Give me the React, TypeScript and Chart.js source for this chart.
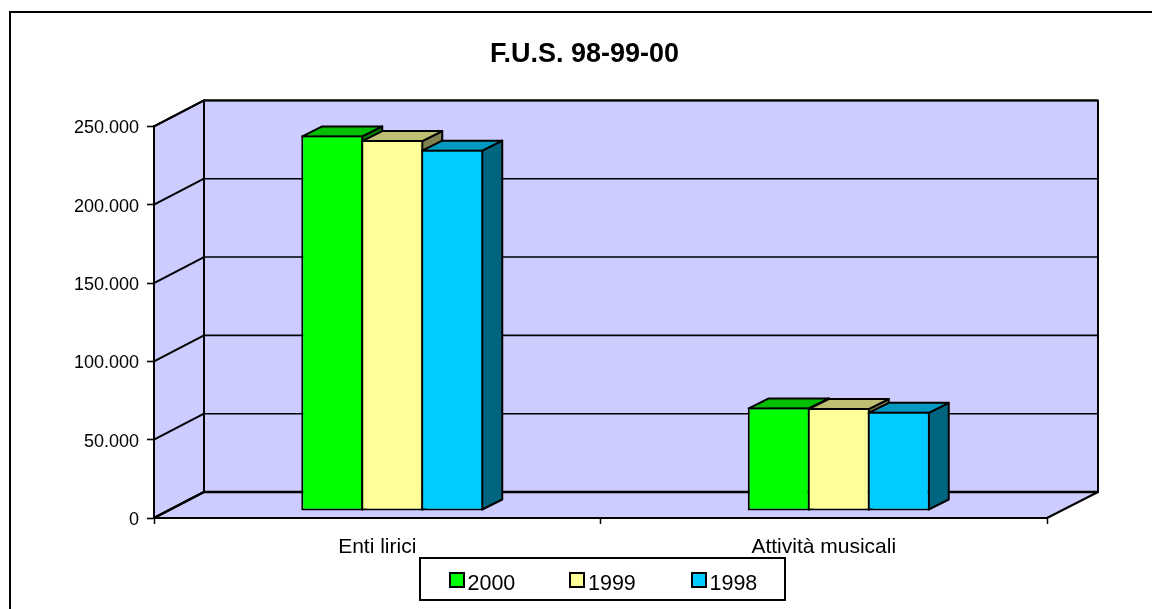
import React, { useEffect, useRef } from "react";
import { Chart, registerables } from "chart.js";

Chart.register(...registerables);

const title = "F.U.S. 98-99-00";
const categories = ["Enti lirici", "Attività musicali"];
const series2000 = [239800, 66150];
const series1999 = [236800, 65700];
const series1998 = [230700, 63300];
const valueTicks = ["0", "50.000", "100.000", "150.000", "200.000", "250.000"];
const FONT = '"Liberation Sans", Arial, sans-serif';

const front = ["#00FF00", "#FFFF99", "#00CCFF"];
const tops = ["#00BF00", "#BFBF73", "#0099BF"];
const sides = ["#008000", "#808050", "#006680"];

const WALL = "#CCCCFF";
const DEPTH_X = 50;
const DEPTH_Y = 26;
const BAR_SHIFT_X = 15;
const BAR_SHIFT_Y = 7;
const BAR_DX = 20;
const BAR_DY = 10;
const LINE = 2;
const GRID = 1.6;

function poly(ctx: CanvasRenderingContext2D, pts: number[][], fill: string | null, lw: number) {
  ctx.beginPath();
  pts.forEach((p, i) => (i ? ctx.lineTo(p[0], p[1]) : ctx.moveTo(p[0], p[1])));
  ctx.closePath();
  if (fill) {
    ctx.fillStyle = fill;
    ctx.fill();
  }
  if (lw > 0) {
    ctx.lineWidth = lw;
    ctx.strokeStyle = "#000";
    ctx.lineJoin = "round";
    ctx.stroke();
  }
}

const scene3d = {
  id: "scene3d",
  afterLayout(chart: any) {
    const t = chart.titleBlock;
    if (t) {
      t.left -= 16;
      t.right -= 16;
    }
  },
  beforeDraw(chart: any) {
    const ctx: CanvasRenderingContext2D = chart.ctx;
    const { left, right, top, bottom } = chart.chartArea;
    const y = chart.scales.y;
    ctx.save();
    ctx.fillStyle = "#fff";
    ctx.fillRect(0, 0, chart.width, chart.height);
    ctx.lineWidth = 2;
    ctx.strokeStyle = "#000";
    ctx.strokeRect(10, 12, 1160, 640);
    const bx = left + DEPTH_X;
    const brx = right + 51;
    const up = DEPTH_Y;
    poly(ctx, [[left, top], [bx, top - up], [bx, bottom - up], [left, bottom]], WALL, LINE);
    poly(ctx, [[bx, top - up], [brx, top - up], [brx, bottom - up], [bx, bottom - up]], WALL, LINE);
    poly(ctx, [[left, bottom], [bx, bottom - up], [brx, bottom - up], [right, bottom]], WALL, LINE);
    y.ticks.forEach((t: any) => {
      const py = y.getPixelForValue(t.value);
      ctx.strokeStyle = "#000";
      ctx.beginPath();
      ctx.moveTo(left, py);
      ctx.lineTo(bx, py - up);
      ctx.lineWidth = LINE;
      ctx.stroke();
      ctx.beginPath();
      ctx.moveTo(bx, py - up);
      ctx.lineTo(brx, py - up);
      ctx.lineWidth = t.value === 0 ? 2.6 : GRID;
      ctx.stroke();
    });
    ctx.restore();
  },
  beforeDatasetDraw() {
    return false;
  },
  afterDatasetsDraw(chart: any) {
    const ctx: CanvasRenderingContext2D = chart.ctx;
    ctx.save();
    ctx.translate(BAR_SHIFT_X, -BAR_SHIFT_Y);
    chart.data.datasets.forEach((_: any, di: number) => {
      const meta = chart.getDatasetMeta(di);
      meta.data.forEach((bar: any) => {
        const { x, y, base, width } = bar.getProps(["x", "y", "base", "width"]);
        const l = x - width / 2 + 1;
        const r = x + width / 2 - 1;
        const t = y + 1;
        const b = base - 1;
        poly(ctx, [[r, t], [r + BAR_DX, t - BAR_DY], [r + BAR_DX, b - BAR_DY], [r, b]], sides[di], 2);
        poly(ctx, [[l, t], [l + BAR_DX, t - BAR_DY], [r + BAR_DX, t - BAR_DY], [r, t]], tops[di], 2);
        bar.draw(ctx);
      });
    });
    ctx.restore();
  },
  afterDraw(chart: any) {
    const ctx: CanvasRenderingContext2D = chart.ctx;
    ctx.save();
    ctx.lineWidth = 2;
    ctx.strokeStyle = "#000";
    ctx.fillStyle = "#fff";
    ctx.fillRect(420, 558, 365, 42);
    ctx.strokeRect(420, 558, 365, 42);
    const swatchX = [450, 570, 692];
    const textX = [467.5, 588, 709.5];
    chart.data.datasets.forEach((ds: any, i: number) => {
      ctx.fillStyle = ds.backgroundColor;
      ctx.fillRect(swatchX[i], 573, 14, 14);
      ctx.strokeRect(swatchX[i], 573, 14, 14);
      ctx.fillStyle = "#000";
      ctx.font = `21.5px ${FONT}`;
      ctx.textAlign = "left";
      ctx.textBaseline = "alphabetic";
      ctx.fillText(ds.label, textX[i], 590);
    });
    ctx.restore();
  },
};

export default function App() {
  const ref = useRef<HTMLCanvasElement | null>(null);
  useEffect(() => {
    if (!ref.current) return;
    const mk = (label: string, data: number[], i: number) => ({
      label,
      data,
      backgroundColor: front[i],
      borderColor: "#000",
      borderWidth: 2,
      borderSkipped: false,
      categoryPercentage: 0.4031,
      barPercentage: 1.0333,
    });
    const chart = new Chart(ref.current, {
      type: "bar",
      data: {
        labels: categories,
        datasets: [mk("2000", series2000, 0), mk("1999", series1999, 1), mk("1998", series1998, 2)],
      },
      plugins: [scene3d],
      options: {
        responsive: false,
        animation: false,
        layout: { padding: { left: 0, right: 105, top: 0, bottom: 0 } },
        plugins: {
          legend: { display: false },
          tooltip: { enabled: false },
          title: {
            display: true,
            fullSize: false,
            text: title,
            color: "#000",
            font: { family: FONT, size: 27, weight: "bold" },
            padding: { top: 38, bottom: 56 },
          },
        },
        scales: {
          x: {
            afterFit: (s: any) => {
              s.height = 91;
            },
            grid: { drawOnChartArea: false, drawTicks: true, tickLength: 6, tickColor: "#000", tickWidth: 1.5 },
            border: { color: "#000", width: 2 },
            ticks: { color: "#000", font: { family: FONT, size: 21 }, padding: 11, maxRotation: 0 },
          },
          y: {
            min: 0,
            max: 250000,
            afterFit: (s: any) => {
              s.width = 154;
            },
            grid: { drawOnChartArea: false, drawTicks: true, tickLength: 7, tickColor: "#000", tickWidth: 1.6 },
            border: { color: "#000", width: 2 },
            ticks: {
              stepSize: 50000,
              color: "#000",
              font: { family: FONT, size: 18 },
              padding: 8,
              labelOffset: 2,
              callback: (_v: any, i: number) => valueTicks[i],
            },
          },
        },
      },
    } as any);
    return () => chart.destroy();
  }, []);
  return (
    <div style={{ position: "absolute", left: 0, top: 0, width: 1152, height: 609, background: "#fff" }}>
      <canvas ref={ref} width={1152} height={609} style={{ display: "block" }} />
    </div>
  );
}
